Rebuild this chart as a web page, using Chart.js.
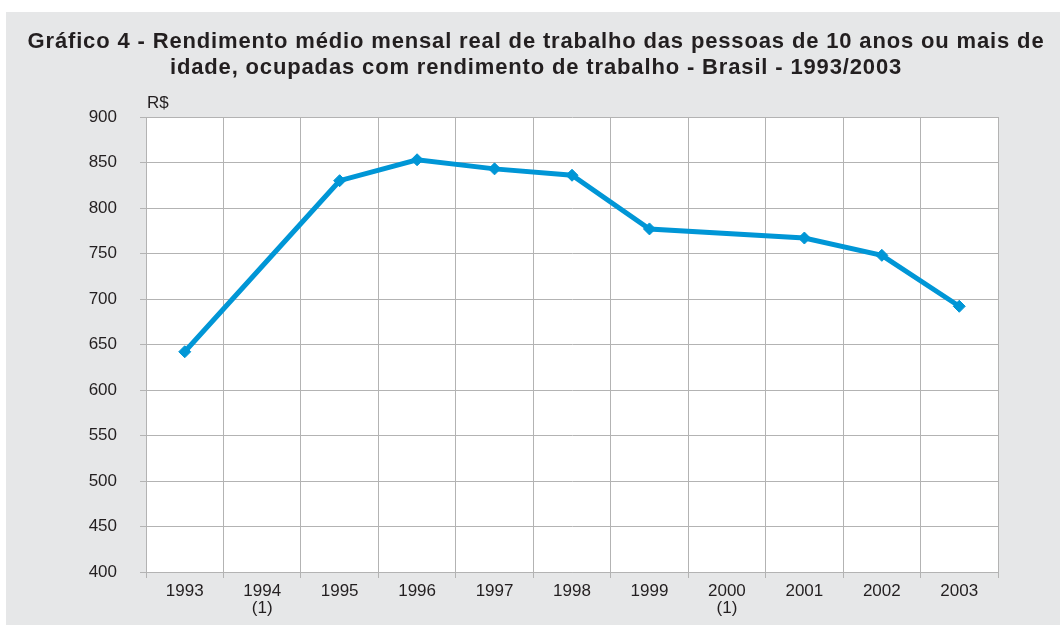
<!DOCTYPE html>
<html>
<head>
<meta charset="utf-8">
<script src="https://cdn.jsdelivr.net/npm/chart.js@4/dist/chart.umd.min.js"></script>
<style>
  html, body { margin: 0; padding: 0; background: #ffffff; }
  #wrap { position: absolute; left: 6px; top: 12px; width: 1054px; height: 613px; background: #e6e7e8; }
  canvas { display: block; }
</style>
</head>
<body>
<div id="wrap"><canvas id="c" width="1054" height="613"></canvas></div>
<script>
const categories = [["1993"], ["1994", "(1)"], ["1995"], ["1996"], ["1997"], ["1998"], ["1999"], ["2000", "(1)"], ["2001"], ["2002"], ["2003"]];
const rendimento = [642, null, 830, 853, 843, 836, 777, null, 767, 748, 692];
const yMin = 400, yMax = 900, yStep = 50;
const titleLines = [
  "Gráfico 4 - Rendimento médio mensal real de trabalho das pessoas de 10 anos ou mais de",
  "idade, ocupadas com rendimento de trabalho - Brasil - 1993/2003"
];
const unitLabel = "R$";

const textColor = "#231f20";
const gridColor = "#b3b3b3";
const lineColor = "#0096d6";

const decor = {
  id: "decor",
  beforeDraw(chart) {
    const { ctx, chartArea: a } = chart;
    ctx.save();
    ctx.fillStyle = "#ffffff";
    ctx.fillRect(a.left, a.top, a.right - a.left, a.bottom - a.top);
    ctx.restore();
  },
  afterDraw(chart) {
    const { ctx, chartArea: a } = chart;
    ctx.save();
    ctx.fillStyle = textColor;
    ctx.font = "17px 'Liberation Sans', Arial, sans-serif";
    ctx.textAlign = "left";
    ctx.textBaseline = "middle";
    ctx.fillText(unitLabel, a.left + 1, a.top - 14);
    // title
    ctx.font = "bold 22px 'Liberation Sans', Arial, sans-serif";
    if ("letterSpacing" in ctx) ctx.letterSpacing = "0.85px";
    ctx.textAlign = "center";
    ctx.textBaseline = "alphabetic";
    ctx.fillText(titleLines[0], 530, 36);
    ctx.fillText(titleLines[1], 530, 62);
    ctx.restore();
  }
};

new Chart(document.getElementById("c"), {
  type: "line",
  data: {
    labels: categories,
    datasets: [{
      data: rendimento,
      borderColor: lineColor,
      backgroundColor: lineColor,
      borderWidth: 5,
      pointStyle: "rectRot",
      pointRadius: 6,
      pointBorderWidth: 1,
      spanGaps: true,
      tension: 0
    }]
  },
  options: {
    responsive: false,
    animation: false,
    layout: { padding: { left: 0, right: 62, top: 105, bottom: 0 } },
    plugins: {
      legend: { display: false },
      tooltip: { enabled: false },
      title: { display: false }
    },
    scales: {
      x: {
        type: "category",
        offset: true,
        grid: { offset: true, color: gridColor, lineWidth: 1, tickLength: 6, drawTicks: true },
        border: { color: gridColor, width: 1 },
        ticks: {
          color: textColor,
          font: { family: "'Liberation Sans', Arial, sans-serif", size: 17, lineHeight: 1.05 },
          padding: 4,
          maxRotation: 0,
          autoSkip: false
        },
        afterFit(scale) { scale.height = 53; }
      },
      y: {
        min: yMin,
        max: yMax,
        grid: { color: gridColor, lineWidth: 1, tickLength: 6, drawTicks: true },
        border: { color: gridColor, width: 1 },
        ticks: {
          stepSize: yStep,
          color: textColor,
          font: { family: "'Liberation Sans', Arial, sans-serif", size: 17 },
          padding: 23
        },
        afterFit(scale) { scale.width = 140; }
      }
    }
  },
  plugins: [decor]
});
</script>
</body>
</html>
